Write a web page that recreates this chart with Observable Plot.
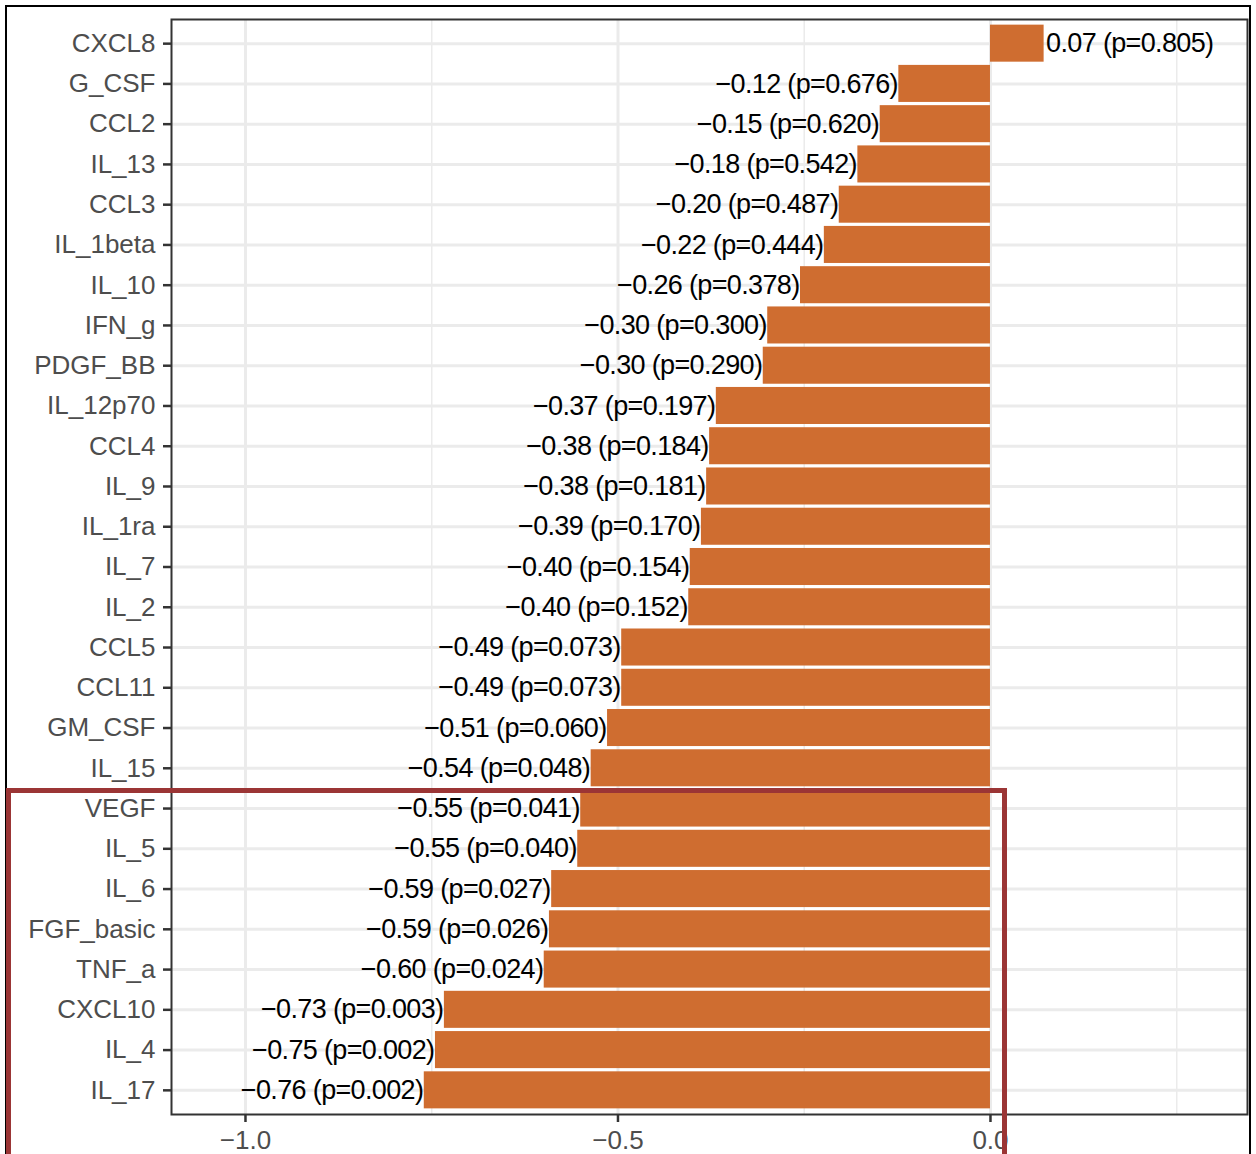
<!DOCTYPE html>
<html>
<head>
<meta charset="utf-8">
<script src="https://cdn.jsdelivr.net/npm/d3@7"></script>
<script src="https://cdn.jsdelivr.net/npm/@observablehq/plot@0.6"></script>
<style>
  html, body { margin: 0; padding: 0; background: #fff; overflow: hidden; }
  #wrap { position: relative; width: 1256px; height: 1154px; overflow: hidden; background: #fff; }
  #outer { position: absolute; left: 5px; top: 5px; width: 1246px; height: 1200px; border: 2px solid #000; box-sizing: border-box; pointer-events: none; }
  #highlight { position: absolute; left: 6px; top: 788px; width: 1001px; height: 500px; border: 5px solid #9B3535; box-sizing: border-box; pointer-events: none; }
  svg { display: block; }
</style>
</head>
<body>
<div id="wrap">
  <div id="chart"></div>
  <div id="outer"></div>
  <div id="highlight"></div>
</div>
<script>
const cytokines = ["CXCL8","G_CSF","CCL2","IL_13","CCL3","IL_1beta","IL_10","IFN_g","PDGF_BB","IL_12p70","CCL4","IL_9","IL_1ra","IL_7","IL_2","CCL5","CCL11","GM_CSF","IL_15","VEGF","IL_5","IL_6","FGF_basic","TNF_a","CXCL10","IL_4","IL_17"];
const rValues = [0.072,-0.123,-0.148,-0.178,-0.203,-0.223,-0.255,-0.299,-0.305,-0.368,-0.377,-0.381,-0.388,-0.403,-0.405,-0.495,-0.495,-0.514,-0.536,-0.550,-0.554,-0.589,-0.592,-0.599,-0.733,-0.745,-0.760];
const rLabels = ["0.07","−0.12","−0.15","−0.18","−0.20","−0.22","−0.26","−0.30","−0.30","−0.37","−0.38","−0.38","−0.39","−0.40","−0.40","−0.49","−0.49","−0.51","−0.54","−0.55","−0.55","−0.59","−0.59","−0.60","−0.73","−0.75","−0.76"];
const pLabels = ["0.805","0.676","0.620","0.542","0.487","0.444","0.378","0.300","0.290","0.197","0.184","0.181","0.170","0.154","0.152","0.073","0.073","0.060","0.048","0.041","0.040","0.027","0.026","0.024","0.003","0.002","0.002"];
const xMajorTicks = [-1.0, -0.5, 0.0];
const xMinorTicks = [-0.75, -0.25, 0.25];

const data = cytokines.map((name, i) => ({
  name,
  r: rValues[i],
  label: `${rLabels[i]} (p=${pLabels[i]})`
}));

const font = "'Liberation Sans', Arial, Helvetica, sans-serif";

const chart = Plot.plot({
  width: 1256,
  height: 1154,
  marginLeft: 171,
  marginRight: 9,
  marginTop: 19,
  marginBottom: 40,
  style: { fontFamily: font, background: "transparent" },
  x: { domain: [-1.0993, 0.3450], axis: null },
  y: { domain: cytokines, paddingInner: 0.08, paddingOuter: 0.14, align: 0.5, round: false, axis: null },
  marks: [
    Plot.gridX(xMinorTicks, { stroke: "#EBEBEB", strokeOpacity: 1, strokeWidth: 1.5 }),
    Plot.gridX(xMajorTicks, { stroke: "#EBEBEB", strokeOpacity: 1, strokeWidth: 3 }),
    Plot.gridY({ stroke: "#EBEBEB", strokeOpacity: 1, strokeWidth: 3 }),
    Plot.barX(data, { x1: 0, x2: "r", y: "name", fill: "#CF6D30" }),
    Plot.text(data.filter(d => d.r < 0), { x: "r", y: "name", text: "label", textAnchor: "end", dx: -1, fontSize: 27, fill: "#000" }),
    Plot.text(data.filter(d => d.r >= 0), { x: "r", y: "name", text: "label", textAnchor: "start", dx: 2, fontSize: 27, fill: "#000" }),
    Plot.frame({ stroke: "#333333", strokeWidth: 2 }),
    Plot.axisY({ tickSize: 8, tickPadding: 8, fontSize: 26, fill: "#4D4D4D", stroke: "#333333", strokeWidth: 2.5, label: null }),
    Plot.axisX(xMajorTicks, { tickSize: 8, tickPadding: 8, fontSize: 26, fill: "#4D4D4D", stroke: "#333333", strokeWidth: 2.5, tickFormat: ".1f", label: null })
  ]
});

// condensed look of the bar labels
d3.select(chart).selectAll("g[aria-label='text'] text").attr("letter-spacing", "-0.65px");

document.getElementById("chart").appendChild(chart);
</script>
</body>
</html>
